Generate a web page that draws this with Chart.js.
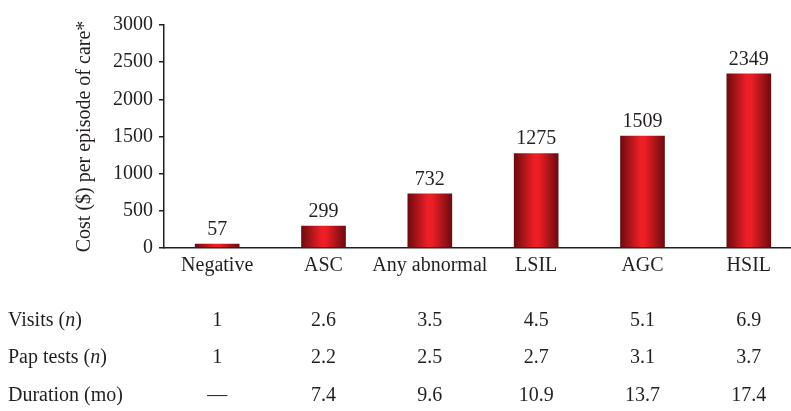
<!DOCTYPE html>
<html>
<head>
<meta charset="utf-8">
<script src="https://cdn.jsdelivr.net/npm/chart.js@4"></script>
<style>
  html, body { margin: 0; padding: 0; background: #fff; overflow: hidden; }
  #wrap { width: 802px; height: 411px; }
</style>
</head>
<body>
<div id="wrap"><canvas id="graph" width="802" height="411"></canvas></div>
<script>
const ctx = document.getElementById("graph");

const categories = ["Negative", "ASC", "Any abnormal", "LSIL", "AGC", "HSIL"];
const costs = [57, 299, 732, 1275, 1509, 2349];
const visits = [1, 2.6, 3.5, 4.5, 5.1, 6.9];
const papTests = [1, 2.2, 2.5, 2.7, 3.1, 3.7];
const duration = [null, 7.4, 9.6, 10.9, 13.7, 17.4];
const yTicks = [0, 500, 1000, 1500, 2000, 2500, 3000];

const textColor = "#231f20";
const serif = '"Liberation Serif", "Times New Roman", serif';
const fontSize = 20;

// rows under the chart: label, italic part, values, y position
const tableRows = [
  { label: "Visits (", italic: "n", tail: ")", values: visits, y: 321 },
  { label: "Pap tests (", italic: "n", tail: ")", values: papTests, y: 358 },
  { label: "Duration (mo)", italic: "", tail: "", values: duration, y: 396 },
];

function barGradient(context) {
  const chart = context.chart;
  const xs = chart.scales.x;
  if (!chart.chartArea || !xs) return "#d81e24";
  const cx = xs.getPixelForValue(context.dataIndex);
  const w = (xs.width / categories.length) * 0.42;
  const g = chart.ctx.createLinearGradient(cx - w / 2, 0, cx + w / 2, 0);
  g.addColorStop(0, "#6a0b0f");
  g.addColorStop(0.45, "#ee1e25");
  g.addColorStop(0.55, "#ee1e25");
  g.addColorStop(1, "#6a0b0f");
  return g;
}

const extras = {
  id: "extras",
  afterDatasetsDraw(chart) {
    const c = chart.ctx;
    const xs = chart.scales.x;
    const meta = chart.getDatasetMeta(0);
    const font = fontSize + "px " + serif;
    c.save();
    c.fillStyle = textColor;
    c.font = font;
    c.textAlign = "center";
    c.textBaseline = "bottom";
    meta.data.forEach((bar, i) => {
      c.fillText(String(costs[i]), bar.x, bar.y - 4);
    });

    c.textBaseline = "middle";
    tableRows.forEach((row) => {
      c.textAlign = "left";
      c.font = font;
      let x = 8;
      c.fillText(row.label, x, row.y);
      x += c.measureText(row.label).width;
      if (row.italic) {
        c.font = "italic " + font;
        c.fillText(row.italic, x, row.y);
        x += c.measureText(row.italic).width;
        c.font = font;
        c.fillText(row.tail, x, row.y);
      }
      c.textAlign = "center";
      row.values.forEach((v, i) => {
        const txt = v === null ? "\u2014" : String(v);
        c.fillText(txt, xs.getPixelForValue(i), row.y);
      });
    });
    c.restore();
  },
};

new Chart(ctx, {
  type: "bar",
  data: {
    labels: categories,
    datasets: [
      {
        label: "Cost",
        data: costs,
        backgroundColor: barGradient,
        borderWidth: 0,
        barPercentage: 0.42,
        categoryPercentage: 1,
      },
    ],
  },
  options: {
    responsive: false,
    animation: false,
    layout: {
      padding: { left: 73, right: 0, top: 25, bottom: 127 },
    },
    plugins: {
      legend: { display: false },
      tooltip: { enabled: false },
    },
    scales: {
      x: {
        ticks: {
          color: textColor,
          padding: 6,
          maxRotation: 0,
          autoSkip: false,
          font: { family: serif, size: fontSize },
        },
        grid: { display: false, drawTicks: false, tickLength: 0 },
        border: { display: true, color: textColor, width: 1.5 },
      },
      y: {
        min: 0,
        max: 3000,
        afterBuildTicks: (axis) => {
          axis.ticks = yTicks.map((v) => ({ value: v }));
        },
        ticks: {
          color: textColor,
          padding: 6,
          font: { family: serif, size: fontSize },
          callback: (value) => String(value),
        },
        grid: {
          drawOnChartArea: false,
          drawTicks: true,
          tickLength: 5,
          color: textColor,
          lineWidth: 1.5,
        },
        border: { display: true, color: textColor, width: 1.5 },
        title: {
          display: true,
          text: "Cost ($) per episode of care*",
          color: textColor,
          padding: { top: 0, bottom: 10 },
          font: { family: serif, size: fontSize },
        },
      },
    },
  },
  plugins: [extras],
});
</script>
</body>
</html>
